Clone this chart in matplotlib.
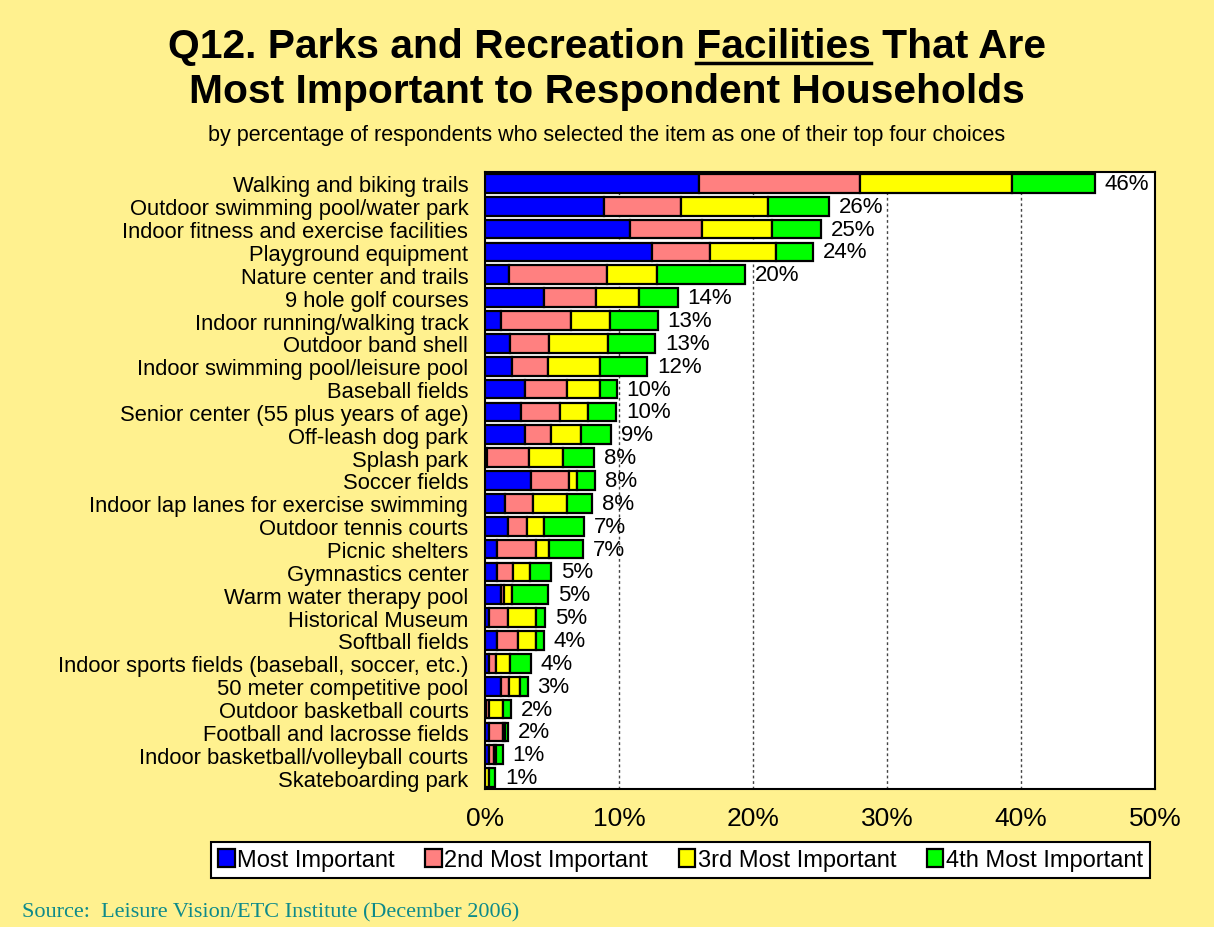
import numpy as np
import matplotlib.pyplot as plt
from matplotlib.lines import Line2D

plt.rcParams['font.family'] = ['Liberation Sans', 'DejaVu Sans']

categories = ['Walking and biking trails', 'Outdoor swimming pool/water park',
              'Indoor fitness and exercise facilities', 'Playground equipment',
              'Nature center and trails', '9 hole golf courses',
              'Indoor running/walking track', 'Outdoor band shell',
              'Indoor swimming pool/leisure pool', 'Baseball fields',
              'Senior center (55 plus years of age)', 'Off-leash dog park',
              'Splash park', 'Soccer fields',
              'Indoor lap lanes for exercise swimming', 'Outdoor tennis courts',
              'Picnic shelters', 'Gymnastics center', 'Warm water therapy pool',
              'Historical Museum', 'Softball fields',
              'Indoor sports fields (baseball, soccer, etc.)',
              '50 meter competitive pool', 'Outdoor basketball courts',
              'Football and lacrosse fields',
              'Indoor basketball/volleyball courts', 'Skateboarding park']

most = [16.0, 8.9, 10.8, 12.5, 1.8, 4.4, 1.2, 1.9, 2.0, 3.0, 2.7, 3.0, 0.15,
        3.4, 1.5, 1.7, 0.9, 0.9, 1.2, 0.3, 0.9, 0.3, 1.2, 0.1, 0.3, 0.3, 0.0]
second = [12.0, 5.7, 5.4, 4.3, 7.3, 3.9, 5.2, 2.9, 2.7, 3.1, 2.9, 1.9, 3.1,
          2.9, 2.1, 1.4, 2.9, 1.2, 0.2, 1.4, 1.6, 0.5, 0.6, 0.2, 1.05, 0.4, 0.0]
third = [11.3, 6.5, 5.2, 4.9, 3.7, 3.2, 2.9, 4.4, 3.9, 2.5, 2.1, 2.3, 2.6,
         0.6, 2.5, 1.3, 1.0, 1.25, 0.6, 2.1, 1.3, 1.1, 0.8, 1.05, 0.12, 0.12, 0.32]
fourth = [6.2, 4.6, 3.7, 2.8, 6.6, 2.9, 3.6, 3.5, 3.5, 1.25, 2.1, 2.2, 2.3,
          1.3, 1.9, 3.0, 2.5, 1.6, 2.7, 0.7, 0.6, 1.5, 0.6, 0.6, 0.23, 0.5, 0.45]
totals_label = ['46%', '26%', '25%', '24%', '20%', '14%', '13%', '13%', '12%',
                '10%', '10%', '9%', '8%', '8%', '8%', '7%', '7%', '5%', '5%',
                '5%', '4%', '4%', '3%', '2%', '2%', '1%', '1%']

series_names = ['Most Important', '2nd Most Important', '3rd Most Important',
                '4th Most Important']
series_colors = ['#0000FF', '#FF8080', '#FFFF00', '#00FF00']
BG = '#FFF18F'

fig = plt.figure(figsize=(12.14, 9.28), dpi=100, facecolor=BG)
ax = fig.add_axes([0.3995, 0.1487, 0.5519, 0.6649])
ax.set_facecolor('white')

y = np.arange(len(categories))
left = np.zeros(len(categories))
handles = []
for vals, name, col in zip([most, second, third, fourth], series_names, series_colors):
    vals = np.array(vals)
    b = ax.barh(y, vals, left=left, height=0.82, color=col, edgecolor='black',
                linewidth=1.6, label=name, zorder=3)
    handles.append(b)
    left = left + vals

for yi, tot, lab in zip(y, left, totals_label):
    ax.annotate(lab, (tot, yi), xytext=(7, 0), textcoords='offset points',
                va='center', ha='left', fontsize=16, zorder=4)

ax.set_xlim(0, 50)
ax.set_ylim(len(categories) - 0.5, -0.5)
ax.set_xticks(np.arange(0, 51, 10))
ax.set_xticklabels([f'{v}%' for v in range(0, 51, 10)], fontsize=19)
ax.set_yticks(y)
ax.set_yticklabels(categories, fontsize=15.8)
ax.tick_params(axis='both', length=0)
ax.tick_params(axis='x', pad=12)
ax.tick_params(axis='y', pad=12)
for xv in [10, 20, 30, 40]:
    ax.axvline(xv, color='#444444', linestyle=(0, (2, 2)), linewidth=1, zorder=1)
for sp in ax.spines.values():
    sp.set_linewidth(1.5)

leg = fig.legend(handles, series_names, loc='center', bbox_to_anchor=(0.5606, 0.0722),
                 ncol=4, fontsize=17, frameon=True, fancybox=False,
                 edgecolor='black', framealpha=1, handlelength=0.7,
                 handleheight=0.8, handletextpad=0.1, columnspacing=1.3,
                 borderpad=0.3, borderaxespad=0)
leg.get_frame().set_linewidth(1.5)

# title with underlined word
line1_pre = 'Q12. Parks and Recreation '
line1_word = 'Facilities'
line1_post = ' That Are'
tkw = dict(fontsize=29.3, fontweight='bold')
t1 = fig.text(0.5, 1 - 47 / 928, line1_pre + line1_word + line1_post,
              ha='center', va='center', **tkw)
fig.text(0.5, 1 - 92 / 928, 'Most Important to Respondent Households',
         ha='center', va='center', **tkw)
fig.text(0.5, 1 - 136 / 928,
         'by percentage of respondents who selected the item as one of their top four choices',
         ha='center', va='center', fontsize=15.5)

renderer = fig.canvas.get_renderer()
full_bb = t1.get_window_extent(renderer)
tmp = fig.text(0, 0, line1_pre.rstrip() + ' |', **tkw)
tmp_bar = fig.text(0, 0, '|', **tkw)
pre_w = tmp.get_window_extent(renderer).width - tmp_bar.get_window_extent(renderer).width
tmp2 = fig.text(0, 0, line1_word, **tkw)
word_w = tmp2.get_window_extent(renderer).width
tmp.remove()
tmp_bar.remove()
tmp2.remove()
x0 = full_bb.x0 + pre_w
x1 = x0 + word_w
yline = full_bb.y0 + 2
fig.add_artist(Line2D([x0 / fig.bbox.width, x1 / fig.bbox.width],
                      [yline / fig.bbox.height, yline / fig.bbox.height],
                      color='black', linewidth=2.5, transform=fig.transFigure))

fig.text(22 / 1214, 1 - 913 / 928, 'Source:  Leisure Vision/ETC Institute (December 2006)',
         ha='left', va='center', fontsize=16, color='#0E8A8A',
         family=['Liberation Serif', 'DejaVu Serif'])

fig.savefig('out.png', dpi=100, facecolor=BG)
